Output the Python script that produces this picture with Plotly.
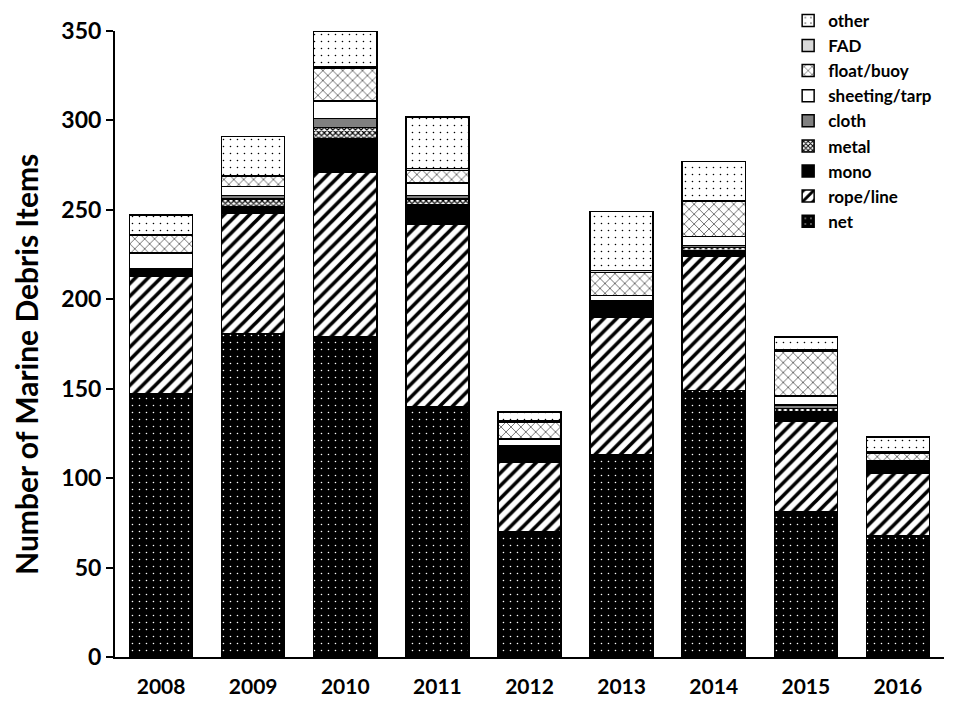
import plotly.graph_objects as go

years = ["2008", "2009", "2010", "2011", "2012", "2013", "2014", "2015", "2016"]
net = [147, 181, 179, 140, 70, 113, 149, 81, 68]
rope_line = [66, 67, 92, 102, 39, 77, 75, 51, 35]
mono = [3, 4, 19, 11, 9, 8, 3, 5, 5]
metal = [1, 4, 6, 3, 0, 1, 2, 2, 1]
cloth = [0, 2, 5, 2, 0, 0, 1, 2, 0]
sheeting_tarp = [9, 5, 10, 7, 4, 3, 5, 5, 1]
float_buoy = [10, 6, 18, 7, 9, 13, 20, 25, 4]
fad = [0, 0, 1, 1, 1, 1, 0, 1, 1]
other = [11, 22, 20, 29, 5, 33, 22, 7, 8]

series = [
    ("net", net, dict(shape=".", bgcolor="black", fgcolor="white", size=7, solidity=0.04)),
    ("rope/line", rope_line, dict(shape="/", bgcolor="white", fgcolor="black", size=9, solidity=0.4)),
    ("mono", mono, None, "black"),
    ("metal", metal, dict(shape="x", bgcolor="white", fgcolor="black", size=4, solidity=0.5)),
    ("cloth", cloth, None, "#808080"),
    ("sheeting/tarp", sheeting_tarp, None, "white"),
    ("float/buoy", float_buoy, dict(shape="x", bgcolor="white", fgcolor="black", size=7, solidity=0.15)),
    ("FAD", fad, None, "#d9d9d9"),
    ("other", other, dict(shape=".", bgcolor="white", fgcolor="black", size=7, solidity=0.04)),
]

fig = go.Figure()
for s in series:
    name, vals, pat = s[0], s[1], s[2]
    marker = dict(line=dict(color="black", width=1.5))
    if pat is not None:
        marker["color"] = "white"
        marker["pattern"] = dict(fillmode="replace", **pat)
    else:
        marker["color"] = s[3]
    fig.add_trace(go.Bar(x=years, y=vals, name=name, marker=marker))

FONT = "Lato"
fig.update_layout(
    barmode="stack",
    bargap=0.315,
    width=960, height=720,
    margin=dict(l=107, r=24, t=23, b=71, autoexpand=False),
    paper_bgcolor="white", plot_bgcolor="white",
    font=dict(family=FONT, color="black"),
    legend=dict(
        traceorder="reversed",
        x=0.812, y=1.045, xanchor="left", yanchor="top",
        font=dict(family=FONT, size=17, color="black", weight="bold"),
        bgcolor="rgba(0,0,0,0)",
        itemwidth=30,
        tracegroupgap=0,
    ),
    xaxis=dict(
        showline=True, linecolor="black", linewidth=2,
        ticks="", showgrid=False, ticklabelstandoff=10,
        tickfont=dict(family=FONT, size=21, color="black", weight="bold"),
    ),
    yaxis=dict(
        range=[0, 350], dtick=50,
        showline=True, linecolor="black", linewidth=2,
        ticks="outside", ticklen=7, tickwidth=2, tickcolor="black",
        showgrid=False, zeroline=False,
        tickfont=dict(family=FONT, size=23, color="black", weight="bold"),
    ),
    annotations=[dict(
        text="Number of Marine Debris Items",
        xref="paper", yref="paper",
        x=-0.1075, y=0.468, xanchor="center", yanchor="middle",
        textangle=-90, showarrow=False,
        font=dict(family=FONT, size=30, color="black", weight="bold"),
    )],
)

fig.write_html("out.html")
